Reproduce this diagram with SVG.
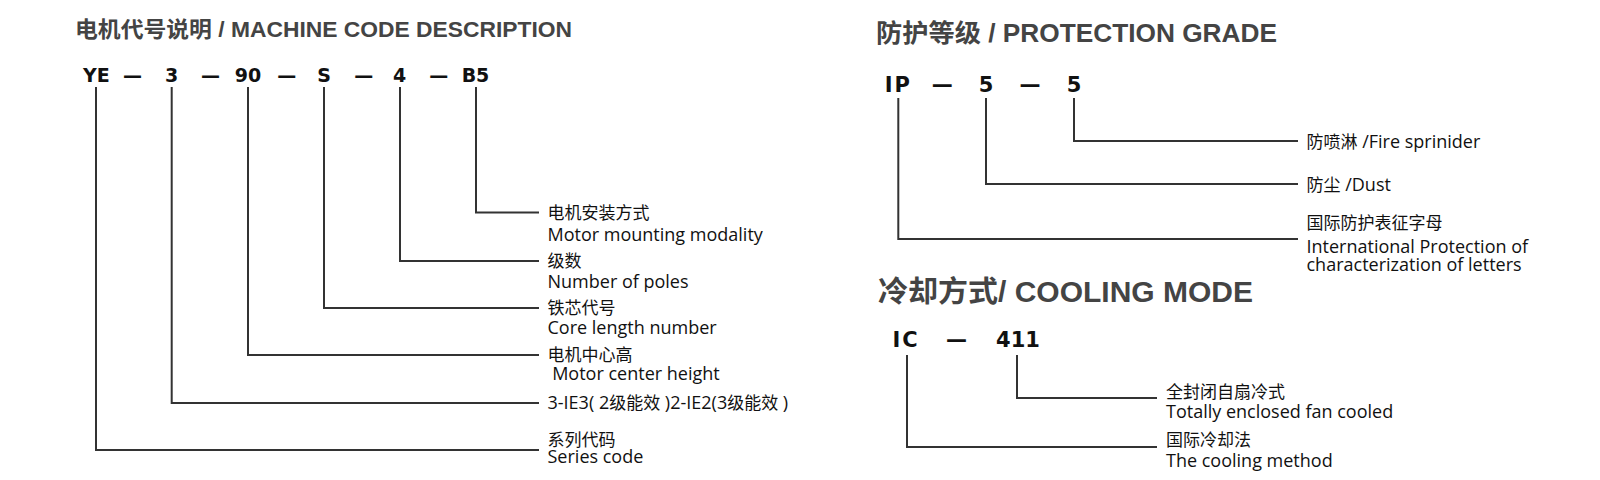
<svg xmlns="http://www.w3.org/2000/svg" width="1600" height="480" viewBox="0 0 1600 480">
<style>
.title{font-family:"Liberation Sans","Noto Sans CJK SC",sans-serif;font-weight:bold;fill:#444}
.code{font-family:"DejaVu Sans",sans-serif;font-weight:bold;fill:#111;text-anchor:middle}
.code19{font-size:19px}
.code21{font-size:21px}
.lbl{font-family:"Open Sans","Noto Sans CJK SC",sans-serif;fill:#111;font-size:18px}
.cjk{font-family:"Noto Sans CJK SC",sans-serif;fill:#111;font-size:17px}
.conn{fill:none;stroke:#333;stroke-width:2}
</style>
<rect width="1600" height="480" fill="#fff"/>

<text class="title" x="75" y="36.5" font-size="22" textLength="497" lengthAdjust="spacingAndGlyphs">电机代号说明 / MACHINE CODE DESCRIPTION</text>
<text class="title" x="876" y="41.5" font-size="25" textLength="401" lengthAdjust="spacingAndGlyphs">防护等级 / PROTECTION GRADE</text>
<text class="title" x="878" y="302" font-size="29" textLength="375" lengthAdjust="spacingAndGlyphs">冷却方式/ COOLING MODE</text>

<g id="code-row">
<text class="code code19" x="96.3" y="81.5">YE</text>
<text class="code code19" x="132.5" y="81.5">—</text>
<text class="code code19" x="171.7" y="81.5">3</text>
<text class="code code19" x="210.5" y="81.5">—</text>
<text class="code code19" x="248" y="81.5">90</text>
<text class="code code19" x="286.7" y="81.5">—</text>
<text class="code code19" x="324" y="81.5">S</text>
<text class="code code19" x="363.8" y="81.5">—</text>
<text class="code code19" x="399.7" y="81.5">4</text>
<text class="code code19" x="438.7" y="81.5">—</text>
<text class="code code19" x="475.5" y="81.5">B5</text>
</g>

<g id="ip-row">
<text class="code code21" x="898.3" y="92" letter-spacing="2">IP</text>
<text class="code code21" x="942.2" y="92">—</text>
<text class="code code21" x="986" y="92">5</text>
<text class="code code21" x="1030" y="92">—</text>
<text class="code code21" x="1074" y="92">5</text>
</g>

<g id="ic-row">
<text class="code code21" x="906" y="346.5" letter-spacing="2">IC</text>
<text class="code code21" x="956.5" y="346.5">—</text>
<text class="code code21" x="1018" y="346.5">411</text>
</g>

<g id="connectors">
<polyline class="conn" points="476,87 476,212.5 539,212.5"/>
<polyline class="conn" points="400,87 400,261 539,261"/>
<polyline class="conn" points="324,87 324,308 539,308"/>
<polyline class="conn" points="248,87 248,355 539,355"/>
<polyline class="conn" points="171.7,87 171.7,403 539,403"/>
<polyline class="conn" points="96,87 96,450 539,450"/>
<polyline class="conn" points="1074,98 1074,141 1298,141"/>
<polyline class="conn" points="986,98 986,184 1298,184"/>
<polyline class="conn" points="898.3,98 898.3,239 1298,239"/>
<polyline class="conn" points="1017,355 1017,398 1157,398"/>
<polyline class="conn" points="907,355 907,447 1157,447"/>
</g>

<g id="label-b5">
<text class="cjk" x="547.5" y="219">电机安装方式</text>
<text class="lbl" x="547.5" y="240.5">Motor mounting modality</text>
</g>
<g id="label-4">
<text class="cjk" x="547.5" y="267">级数</text>
<text class="lbl" x="547.5" y="287.5">Number of poles</text>
</g>
<g id="label-s">
<text class="cjk" x="547.5" y="314">铁芯代号</text>
<text class="lbl" x="547.5" y="333.5">Core length number</text>
</g>
<g id="label-90">
<text class="cjk" x="547.5" y="361">电机中心高</text>
<text class="lbl" x="547.5" y="379.5" xml:space="preserve"> Motor center height</text>
</g>
<g id="label-3">
<text class="lbl" x="547.5" y="409" xml:space="preserve">3-IE3( 2<tspan font-size="17">级能效</tspan> )2-IE2(3<tspan font-size="17">级能效</tspan> )</text>
</g>
<g id="label-ye">
<text class="cjk" x="547.5" y="445.5">系列代码</text>
<text class="lbl" x="547.5" y="463">Series code</text>
</g>

<g id="label-ip5b">
<text class="lbl" x="1306.5" y="147.5"><tspan font-size="17">防喷淋</tspan> /Fire sprinider</text>
</g>
<g id="label-ip5a">
<text class="lbl" x="1306.5" y="190.5"><tspan font-size="17">防尘</tspan> /Dust</text>
</g>
<g id="label-ip">
<text class="cjk" x="1306.5" y="229">国际防护表征字母</text>
<text class="lbl" x="1306.5" y="253">International Protection of</text>
<text class="lbl" x="1306.5" y="271">characterization of letters</text>
</g>

<g id="label-411">
<text class="cjk" x="1166" y="397.5">全封闭自扇冷式</text>
<text class="lbl" x="1166" y="418">Totally enclosed fan cooled</text>
</g>
<g id="label-ic">
<text class="cjk" x="1166" y="446">国际冷却法</text>
<text class="lbl" x="1166" y="466.5">The cooling method</text>
</g>
</svg>
